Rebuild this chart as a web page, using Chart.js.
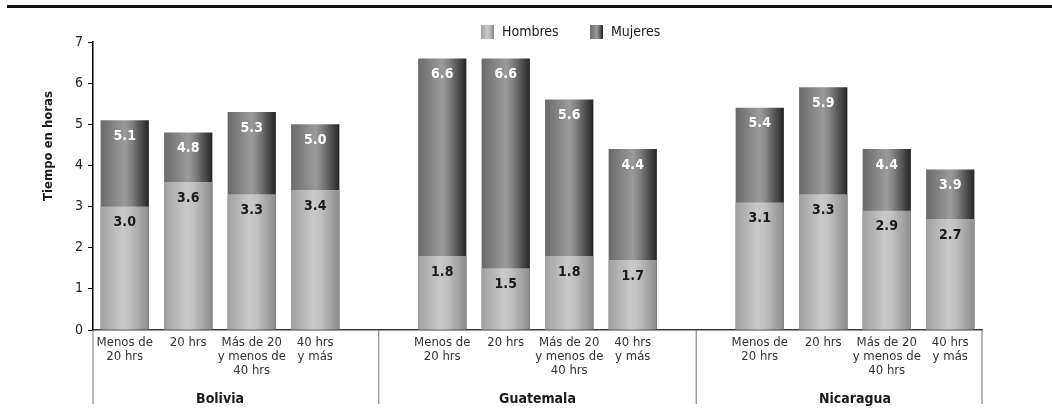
<!DOCTYPE html>
<html>
<head>
<meta charset="utf-8">
<script src="https://cdn.jsdelivr.net/npm/chart.js@4.4.1/dist/chart.umd.min.js"></script>
<style>
    html, body { margin: 0; padding: 0; background: #fff; }
    #wrap { width: 1052px; height: 416px; }
</style>
</head>
<body>
<div id="wrap"><canvas id="chart"></canvas></div>
<script>
const FONT = "'Liberation Sans Narrow', 'DejaVu Sans Condensed', 'Liberation Sans', sans-serif";

// Data
const countries = ['Bolivia', 'Guatemala', 'Nicaragua'];
const hourLabels = [['Menos de', '20 hrs'], ['20 hrs'], ['Más de 20', 'y menos de', '40 hrs'], ['40 hrs', 'y más']];
const hombres = [
    [3.0, 3.6, 3.3, 3.4],   // Bolivia
    [1.8, 1.5, 1.8, 1.7],   // Guatemala
    [3.1, 3.3, 2.9, 2.7]    // Nicaragua
];
const mujeres = [
    [5.1, 4.8, 5.3, 5.0],
    [6.6, 6.6, 5.6, 4.4],
    [5.4, 5.9, 4.4, 3.9]
];
const yTicks = [0, 1, 2, 3, 4, 5, 6, 7];
const seriesNames = ['Hombres', 'Mujeres'];
const yTitle = 'Tiempo en horas';

// one empty slot between countries
let labels = [];
let dataH = [];
let dataM = [];
let groupStart = [];
countries.forEach(function (c, ci) {
    if (ci > 0) {
        labels.push('');
        dataH.push(null);
        dataM.push(null);
    }
    groupStart.push(labels.length);
    hourLabels.forEach(function (l, i) {
        labels.push(l);
        dataH.push(hombres[ci][i]);
        dataM.push(mujeres[ci][i]);
    });
});

const BAR_PCT = 0.76;
const stopsH = [[0, '#a0a0a0'], [0.45, '#c9c9c9'], [0.6, '#c2c2c2'], [1, '#8c8c8c']];
const stopsM = [[0, '#6a6a6a'], [0.5, '#9b9b9b'], [0.62, '#868686'], [1, '#242424']];

function makeGradient(ctx, x0, x1, stops) {
    let g = ctx.createLinearGradient(x0, 0, x1, 0);
    stops.forEach(function (s) { g.addColorStop(s[0], s[1]); });
    return g;
}

function barFill(stops) {
    return function (c) {
        const chart = c.chart;
        const xs = chart.scales.x;
        if (!xs || !chart.chartArea || c.type !== 'data') return stops[1][1];
        const cx = xs.getPixelForValue(c.dataIndex);
        const half = xs.width / labels.length * BAR_PCT / 2;
        return makeGradient(chart.ctx, cx - half, cx + half, stops);
    };
}

// value labels inside the bars
const valueLabels = {
    id: 'valueLabels',
    afterDatasetsDraw(chart) {
        const ctx = chart.ctx;
        ctx.save();
        ctx.font = 'bold 14px ' + FONT;
        ctx.textAlign = 'center';
        ctx.textBaseline = 'middle';
        chart.data.datasets.forEach(function (ds, di) {
            chart.getDatasetMeta(di).data.forEach(function (el, i) {
                const v = ds.data[i];
                if (v == null) return;
                ctx.fillStyle = ds.labelColor;
                ctx.fillText(v.toFixed(1), el.x, el.y + 16);
            });
        });
        ctx.restore();
    }
};

// rule, axis title, legend, country groups
const decor = {
    id: 'decor',
    afterDraw(chart) {
        const ctx = chart.ctx;
        const area = chart.chartArea;
        const xs = chart.scales.x;
        ctx.save();

        ctx.fillStyle = '#111';
        ctx.fillRect(7, 5, chart.width - 7, 3);

        // y title
        ctx.save();
        ctx.translate(49, 146);
        ctx.rotate(-Math.PI / 2);
        ctx.font = 'bold 13px ' + FONT;
        ctx.fillStyle = '#1a1a1a';
        ctx.textAlign = 'center';
        ctx.textBaseline = 'middle';
        ctx.fillText(yTitle, 0, 0);
        ctx.restore();

        // legend
        const legendX = [481, 590];
        const legendStops = [stopsH, stopsM];
        ctx.font = '14px ' + FONT;
        ctx.textBaseline = 'middle';
        ctx.textAlign = 'left';
        seriesNames.forEach(function (name, i) {
            const x = legendX[i];
            ctx.fillStyle = makeGradient(ctx, x, x + 13, legendStops[i]);
            ctx.fillRect(x, 25, 13, 14);
            ctx.fillStyle = '#1a1a1a';
            ctx.fillText(name, x + 21, 32);
        });

        // group separators
        let seps = [area.left];
        for (let g = 1; g < countries.length; g++) {
            seps.push(xs.getPixelForValue(groupStart[g] - 1));
        }
        seps.push(area.right);
        ctx.strokeStyle = '#8a8a8a';
        ctx.lineWidth = 1.2;
        seps.forEach(function (x) {
            ctx.beginPath();
            ctx.moveTo(x, area.bottom);
            ctx.lineTo(x, area.bottom + 74);
            ctx.stroke();
        });

        // country names
        ctx.font = 'bold 14px ' + FONT;
        ctx.fillStyle = '#1a1a1a';
        ctx.textAlign = 'center';
        countries.forEach(function (c, ci) {
            const a = xs.getPixelForValue(groupStart[ci]);
            const b = xs.getPixelForValue(groupStart[ci] + hourLabels.length - 1);
            ctx.fillText(c, (a + b) / 2, area.bottom + 69);
        });

        ctx.restore();
    }
};

const chartEl = document.getElementById('chart');

new Chart(chartEl, {
    type: 'bar',
    data: {
        labels: labels,
        datasets: [
            {
                label: seriesNames[0],
                data: dataH,
                backgroundColor: barFill(stopsH),
                labelColor: '#1a1a1a',
                grouped: false,
                barPercentage: BAR_PCT,
                categoryPercentage: 1
            },
            {
                label: seriesNames[1],
                data: dataM,
                backgroundColor: barFill(stopsM),
                labelColor: '#ffffff',
                grouped: false,
                barPercentage: BAR_PCT,
                categoryPercentage: 1
            }
        ]
    },
    options: {
        responsive: true,
        maintainAspectRatio: false,
        animation: false,
        events: [],
        layout: { padding: { top: 42, right: 70, bottom: 0, left: 0 } },
        plugins: {
            legend: { display: false },
            tooltip: { enabled: false }
        },
        scales: {
            x: {
                afterFit: function (s) { s.height = 86; },
                grid: { display: false, drawTicks: false, tickLength: 0 },
                border: { display: true, color: '#3a3a3a', width: 1.5 },
                ticks: {
                    autoSkip: false,
                    maxRotation: 0,
                    minRotation: 0,
                    padding: 6,
                    color: '#333',
                    font: { family: FONT, size: 13, lineHeight: 1.05 }
                }
            },
            y: {
                min: yTicks[0],
                max: yTicks[yTicks.length - 1],
                afterFit: function (s) { s.width = 93; },
                afterBuildTicks: function (s) {
                    s.ticks = yTicks.map(function (v) { return { value: v }; });
                },
                grid: { drawOnChartArea: false, drawTicks: true, tickLength: 5, color: '#000', lineWidth: 1 },
                border: { display: true, color: '#000', width: 1.5 },
                ticks: {
                    padding: 5,
                    color: '#222',
                    font: { family: FONT, size: 14 }
                }
            }
        }
    },
    plugins: [valueLabels, decor]
});
</script>
</body>
</html>
